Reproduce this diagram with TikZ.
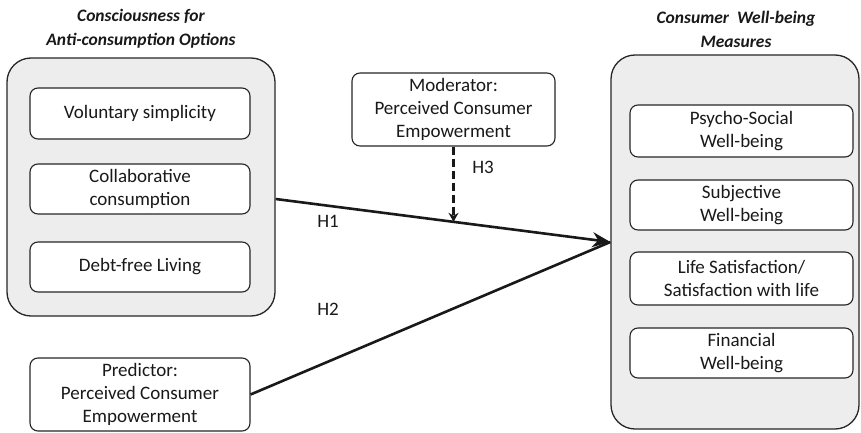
\documentclass[tikz,border=0pt]{standalone}
\usepackage{fontspec}
\setmainfont{Carlito}
\usetikzlibrary{positioning,calc,arrows.meta}

\tikzset{
  grp/.style={draw=black!85, line width=1.3pt, rounded corners=24pt, fill=black!7},
  item/.style={draw=black!85, line width=1.1pt, rounded corners=8pt, fill=white,
    align=center, inner sep=0pt},
  grptitle/.style={font=\fontsize{17.5}{24}\selectfont\bfseries\itshape, align=center},
  link/.style={line width=2.6pt, draw=black!90},
  modlink/.style={line width=2.5pt, draw=black!90, dash pattern=on 8pt off 4pt,
    -{Stealth[length=9pt,width=10pt]}},
}

\begin{document}
\begin{tikzpicture}[x=1pt,y=-1pt,font=\fontsize{19}{23}\selectfont,
    every node/.append style={text=black!90}]
  \useasboundingbox (0,0) rectangle (861,433);
  % group titles
  \node[grptitle] (antititle) at (141,29) {Consciousness for\\Anti-consumption Options};
  \node[grptitle] (welltitle) at (736,29) {Consumer~~Well-being\\Measures};
  % left group: anti-consumption options
  \node[grp, minimum width=268pt, minimum height=258pt] (antigrp) at (141,187) {};
  \node[item, minimum width=220pt, minimum height=51pt] (volsimp) at (140,113.5) {Voluntary simplicity};
  \node[item, minimum width=220pt, minimum height=50pt] (collab) at (140,189) {Collaborative\\consumption};
  \node[item, minimum width=220pt, minimum height=50pt] (debtfree) at (140,267) {Debt-free Living};
  % right group: well-being measures
  \node[grp, minimum width=248pt, minimum height=374pt] (wellgrp) at (735,242) {};
  \node[item, minimum width=223pt, minimum height=52pt] (psysoc) at (741.5,131) {Psycho-Social\\Well-being};
  \node[item, minimum width=223pt, minimum height=50pt] (subj) at (741.5,205) {Subjective\\Well-being};
  \node[item, minimum width=223pt, minimum height=53pt] (lifesat) at (741.5,278.5) {Life Satisfaction/\\Satisfaction with life};
  \node[item, minimum width=223pt, minimum height=50pt] (finan) at (741.5,353) {Financial\\Well-being};
  % predictor and moderator
  \node[item, minimum width=220pt, minimum height=73pt] (predict) at (140,394.5) {Predictor:\\Perceived Consumer\\Empowerment};
  \node[item, minimum width=203pt, minimum height=73pt] (moder) at (453.5,109.5) {Moderator:\\Perceived Consumer\\Empowerment};
  % hypotheses
  \draw[link, -{Stealth[length=18pt,width=15pt]}] ([yshift=-12pt]antigrp.east)
    -- coordinate[pos=0.531] (hmeet) (wellgrp.west);
  \draw[link] (predict.east) -- (wellgrp.west);
  \draw[modlink] (moder.south) -- (moder.south |- hmeet);
  \node (hone) at (328,221) {H1};
  \node (htwo) at (328,309) {H2};
  \node (hthree) at (483,167) {H3};
\end{tikzpicture}
\end{document}
